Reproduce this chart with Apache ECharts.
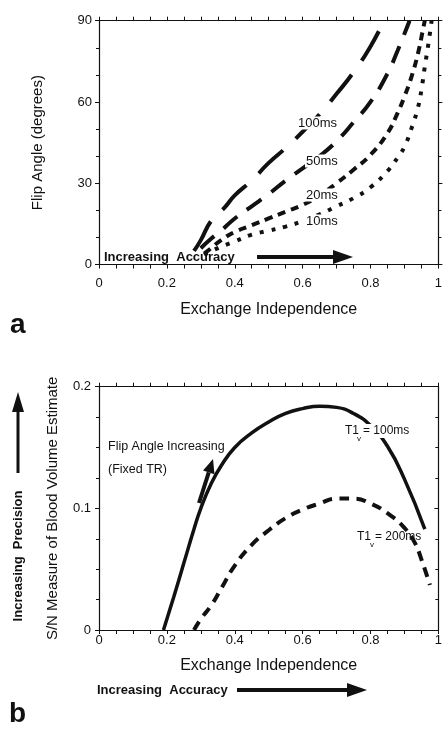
<!DOCTYPE html>
<html>
<head>
<meta charset="utf-8">
<script src="https://cdn.jsdelivr.net/npm/echarts@6/dist/echarts.min.js"></script>
<style>
  html, body { margin: 0; background: #fff; }
  #main { width: 445px; height: 729px; }
</style>
</head>
<body>
<div id="main"></div>
<script>
// panel a: flip angle vs exchange independence, one curve per T1v
const flip100 = [[0.28,5],[0.3,9],[0.33,16],[0.37,21],[0.4,25.5],[0.45,31],[0.5,37.5],[0.55,43],[0.6,49],[0.65,55.5],[0.7,63],[0.75,71],[0.8,80.5],[0.84,90]];
const flip50 = [[0.3,6],[0.33,9.5],[0.36,12.5],[0.4,17],[0.45,21.5],[0.5,26],[0.55,31],[0.6,35.5],[0.65,40],[0.7,45.5],[0.75,52.5],[0.8,60],[0.85,70.5],[0.88,79],[0.915,90]];
const flip20 = [[0.31,4],[0.33,6],[0.36,9],[0.4,12],[0.45,14.5],[0.5,17],[0.55,19.5],[0.6,22],[0.65,25.5],[0.7,30],[0.75,35],[0.8,40.5],[0.85,48.5],[0.88,56],[0.9,62],[0.92,69],[0.94,78],[0.955,87],[0.96,90]];
const flip10 = [[0.31,3.5],[0.34,5.5],[0.4,8.5],[0.45,11],[0.5,12.5],[0.55,14],[0.6,16],[0.65,18.5],[0.7,21.5],[0.75,24.5],[0.8,28.5],[0.85,34.5],[0.88,39.5],[0.9,43.5],[0.92,50],[0.94,58],[0.95,64.5],[0.96,73],[0.97,81],[0.98,90]];

// panel b: S/N of blood volume estimate vs exchange independence
const sn100 = [[0.19,0],[0.22,0.027],[0.25,0.055],[0.28,0.083],[0.3,0.1],[0.33,0.12],[0.36,0.135],[0.4,0.15],[0.45,0.162],[0.5,0.171],[0.55,0.178],[0.6,0.182],[0.65,0.184],[0.7,0.183],[0.75,0.178],[0.8,0.168],[0.85,0.151],[0.9,0.124],[0.96,0.083]];
const sn200 = [[0.28,0],[0.3,0.009],[0.33,0.02],[0.36,0.034],[0.4,0.053],[0.45,0.07],[0.5,0.082],[0.55,0.092],[0.6,0.099],[0.65,0.104],[0.7,0.108],[0.75,0.108],[0.8,0.104],[0.85,0.096],[0.9,0.084],[0.93,0.072],[0.95,0.058],[0.975,0.037]];

let myChart = echarts.init(document.getElementById('main'), null, {renderer: 'canvas'});

const font = "'Liberation Sans', Arial, Helvetica, sans-serif";
const ink = '#111';

// axis helper: frame side with ticks, labels only on bottom/left
function axis(extra) {
    return Object.assign({
        type: 'value',
        axisLine: {show: true, onZero: false, lineStyle: {color: ink, width: 1.2}},
        axisTick: {show: true, length: 4, lineStyle: {color: ink}},
        minorTick: {show: true, length: 3, lineStyle: {color: ink}},
        splitLine: {show: false},
        minorSplitLine: {show: false},
        axisLabel: {show: false}
    }, extra);
}
const tickLabel = (margin) => ({show: true, color: ink, fontSize: 13, fontFamily: font, margin: margin});

function arrow(x1, y1, x2, y2, w, head, half) {
    // shaft then head, pointing from (x1,y1) to (x2,y2)
    const len = Math.hypot(x2 - x1, y2 - y1);
    const ux = (x2 - x1) / len, uy = (y2 - y1) / len;
    const bx = x2 - ux * head, by = y2 - uy * head;
    return [
        {type: 'line', z: 100, shape: {x1: x1, y1: y1, x2: bx, y2: by}, style: {stroke: ink, lineWidth: w}},
        {type: 'polygon', z: 100, shape: {points: [[x2, y2], [bx - uy * half, by + ux * half], [bx + uy * half, by - ux * half]]}, style: {fill: ink}}
    ];
}
function txt(x, y, s, size, extra) {
    return {type: 'text', z: 100, x: x, y: y, style: Object.assign({text: s, font: size + 'px ' + font, fill: ink, verticalAlign: 'middle'}, extra || {})};
}

// 曲线样式
function curve(data, xi, yi, width, dash) {
    return {type: 'line', xAxisIndex: xi, yAxisIndex: yi, data: data, showSymbol: false, smooth: 0.5,
        lineStyle: {color: ink, width: width, type: dash || 'solid'}};
}

let option = {
    animation: false,
    backgroundColor: '#fff',
    grid: [
        {left: 99, right: 4, top: 20.7, height: 243.8},
        {left: 99, right: 4, top: 386.7, height: 243.3}
    ],
    xAxis: [
        axis({gridIndex: 0, position: 'bottom', min: 0, max: 1, interval: 0.2, minorTick: {show: true, splitNumber: 4, length: 4, lineStyle: {color: ink}},
            axisLabel: tickLabel(12),
            name: 'Exchange Independence', nameLocation: 'middle', nameGap: 37,
            nameTextStyle: {color: ink, fontSize: 16, fontFamily: font}}),
        axis({gridIndex: 0, position: 'top', min: 0, max: 1, interval: 0.2, minorTick: {show: true, splitNumber: 4, length: 4, lineStyle: {color: ink}}}),
        axis({gridIndex: 1, position: 'bottom', min: 0, max: 1, interval: 0.2, minorTick: {show: true, splitNumber: 4, length: 4, lineStyle: {color: ink}},
            axisLabel: tickLabel(4),
            name: 'Exchange Independence', nameLocation: 'middle', nameGap: 28,
            nameTextStyle: {color: ink, fontSize: 16, fontFamily: font}}),
        axis({gridIndex: 1, position: 'top', min: 0, max: 1, interval: 0.2, minorTick: {show: true, splitNumber: 4, length: 4, lineStyle: {color: ink}}})
    ],
    yAxis: [
        axis({gridIndex: 0, position: 'left', min: 0, max: 90, interval: 30, minorTick: {show: true, splitNumber: 3, length: 3, lineStyle: {color: ink}},
            axisLabel: tickLabel(7),
            name: 'Flip Angle (degrees)', nameLocation: 'middle', nameGap: 54, nameRotate: 90,
            nameTextStyle: {color: ink, fontSize: 15, fontFamily: font}}),
        axis({gridIndex: 0, position: 'right', min: 0, max: 90, interval: 30, minorTick: {show: true, splitNumber: 3, length: 3, lineStyle: {color: ink}}}),
        axis({gridIndex: 1, position: 'left', min: 0, max: 0.2, interval: 0.1, minorTick: {show: true, splitNumber: 4, length: 3, lineStyle: {color: ink}},
            axisLabel: tickLabel(8),
            name: 'S/N Measure of Blood Volume Estimate', nameLocation: 'middle', nameGap: 39, nameRotate: 90,
            nameTextStyle: {color: ink, fontSize: 15, fontFamily: font}}),
        axis({gridIndex: 1, position: 'right', min: 0, max: 0.2, interval: 0.1,
            axisTick: {show: true, inside: true, length: 4, lineStyle: {color: ink}},
            minorTick: {show: true, splitNumber: 4, length: 3, lineStyle: {color: ink}}})
    ],
    series: [
        curve(flip100, 0, 0, 4, [34, 17]),
        curve(flip50, 0, 0, 4, [18, 12]),
        curve(flip20, 0, 0, 4, [8, 6]),
        curve(flip10, 0, 0, 4, [4, 8]),
        curve(sn100, 2, 2, 3.5),
        curve(sn200, 2, 2, 4, [10, 7])
    ],
    graphic: [].concat(
        // panel a annotations
        [
            txt(297, 123, '100ms', 13, {backgroundColor: '#fff', padding: [0, 1]}),
            txt(305, 161, '50ms', 13, {backgroundColor: '#fff', padding: [0, 1]}),
            txt(305, 195, '20ms', 13, {backgroundColor: '#fff', padding: [0, 1]}),
            txt(305, 221, '10ms', 13, {backgroundColor: '#fff', padding: [0, 1]}),
            txt(104, 257, 'Increasing  Accuracy', 13, {font: 'bold 13px ' + font}),
            txt(10, 325, 'a', 28, {font: 'bold 28px ' + font})
        ],
        arrow(257, 257, 353, 257, 4, 20, 7),
        // panel b annotations
        [
            txt(108, 447, 'Flip Angle Increasing', 12.5),
            txt(108, 470, '(Fixed TR)', 12.5),
            txt(345, 431, 'T1', 12),
            txt(357, 439, 'v', 8),
            txt(362, 431, '= 100ms', 12, {backgroundColor: '#fff', padding: [1, 0, 1, 1]}),
            txt(357, 537, 'T1', 12),
            txt(370, 545, 'v', 8),
            txt(375, 537, '= 200ms', 12),
            txt(97, 690, 'Increasing  Accuracy', 13, {font: 'bold 13px ' + font}),
            txt(9, 714, 'b', 28, {font: 'bold 28px ' + font}),
            {type: 'text', z: 100, x: 18, y: 556, rotation: Math.PI / 2,
                style: {text: 'Increasing  Precision', font: 'bold 13px ' + font, fill: ink, align: 'center', verticalAlign: 'middle'}}
        ],
        arrow(199, 503, 213, 459, 4, 14, 6),
        arrow(237, 690, 367, 690, 4, 20, 7),
        arrow(18, 473, 18, 392, 3, 20, 6)
    )
};

myChart.setOption(option);
</script>
</body>
</html>
